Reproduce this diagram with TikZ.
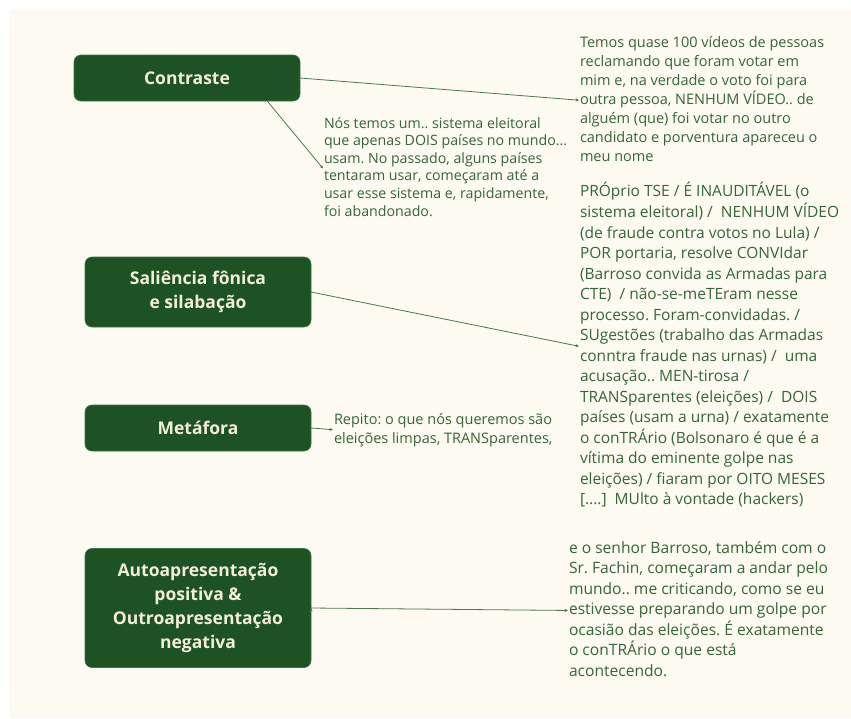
\documentclass[tikz,border=0pt]{standalone}
\usepackage{fontspec}
\setmainfont{Open Sans}
\frenchspacing
\usetikzlibrary{arrows.meta,positioning}

\definecolor{paper}{HTML}{FDFAF1}
\definecolor{boxgreen}{HTML}{1C5224}
\definecolor{boxline}{HTML}{3D7444}
\definecolor{boxtext}{HTML}{F4EED9}
\definecolor{txtgreen}{HTML}{356639}
\definecolor{linkgreen}{HTML}{4A7A4F}

\tikzset{
  box/.style={rectangle, rounded corners=7pt, fill=boxgreen, draw=boxline, line width=0.6pt,
    text=boxtext, font=\fontsize{17.5}{24}\selectfont\bfseries, align=center,
    minimum width=226pt, inner sep=0pt, outer sep=0pt},
  quote/.style={anchor=north west, inner sep=0pt, outer sep=1pt, text=txtgreen,
    align=left, font=\fontsize{14.5}{19}\selectfont},
  link/.style={draw=linkgreen, line width=0.8pt, -{Stealth[length=3.5pt,width=3pt]}}
}

\begin{document}
\begin{tikzpicture}[x=1pt,y=-1pt,node distance=3cm,on grid]
\fill[white] (0,0) rectangle (851,718);
\fill[paper] (9,10) rectangle (851,718);
\useasboundingbox (0,0) rectangle (851,718);

\node[box, minimum height=46pt] (c0) at (187,78) {Contraste};
\node[box, minimum height=70pt, below right = 214pt and 11pt of c0] (c1) {Saliência fônica\\e silabação};
\node[box, minimum height=46pt, below = 136pt of c1] (c2) {Metáfora};
\node[box, minimum height=119pt, below = 180pt of c2] (c3) {Autoapresentação\\positiva \&\\Outroapresentação\\negativa};

% first line: top = baseline - 0.7 baselineskip (strut)
\node[quote] (t0) at (579,32.7) {\strut Temos quase 100 vídeos de pessoas\\reclamando que foram votar em\\mim e, na verdade o voto foi para\\outra pessoa, NENHUM VÍDEO.. de\\alguém (que) foi votar no outro\\candidato e porventura apareceu o\\meu nome\strut};
\node[quote, font=\fontsize{14.2}{17.6}\selectfont] (t1) at (323,114.7) {\strut Nós temos um.. sistema eleitoral\\que apenas DOIS países no mundo...\\usam. No passado, alguns países\\tentaram usar, começaram até a\\usar esse sistema e, rapidamente,\\foi abandonado.\strut};
\node[quote, font=\fontsize{15.5}{20.5}\selectfont] (t2) at (579,180.7) {\strut PRÓprio TSE / É INAUDITÁVEL (o\\sistema eleitoral) / \ NENHUM VÍDEO\\(de fraude contra votos no Lula) /\\POR portaria, resolve CONVIdar\\(Barroso convida as Armadas para\\CTE) \ / não-se-meTEram nesse\\processo. Foram-convidadas. /\\SUgestões (trabalho das Armadas\\conntra fraude nas urnas) / \ uma\\acusação.. MEN-tirosa /\\TRANSparentes (eleições) / \ DOIS\\países (usam a urna) / exatamente\\o conTRÁrio (Bolsonaro é que é a\\vítima do eminente golpe nas\\eleições) / fiaram por OITO MESES\\{[....]} \ MUlto à vontade (hackers)\strut};
\node[quote] (t3) at (333,409.7) {\strut Repito: o que nós queremos são\\eleições limpas, TRANSparentes,\strut};
\node[quote, font=\fontsize{15.6}{20.5}\selectfont] (t4) at (568,537.7) {\strut e o senhor Barroso, também com o\\Sr. Fachin, começaram a andar pelo\\mundo.. me criticando, como se eu\\estivesse preparando um golpe por\\ocasião das eleições. É exatamente\\o conTRÁrio o que está\\acontecendo.\strut};

\path[link] (c0.east) edge (t0.west)
  (c0.-16) edge (t1.west)
  (c1.east) edge (t2.west)
  (c2.east) edge (t3.west)
  (c3.east) edge (t4.west);
\end{tikzpicture}
\end{document}
